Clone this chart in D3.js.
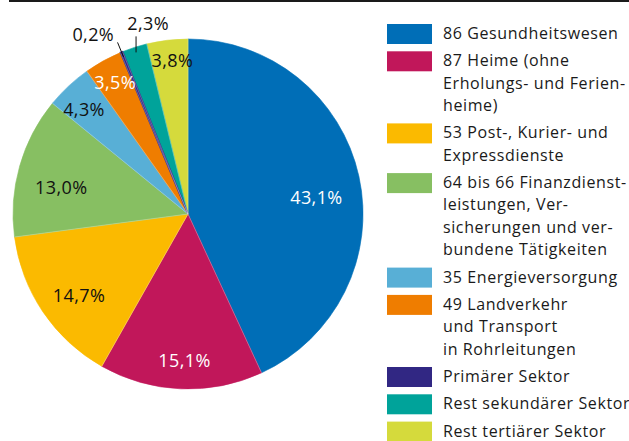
<!DOCTYPE html>
<html>
<head>
<meta charset="utf-8">
<script src="https://cdn.jsdelivr.net/npm/d3@7"></script>
<style>
  body { margin: 0; background: #fff; }
  svg { display: block; font-family: "Open Sans", sans-serif; }
</style>
</head>
<body>
<div id="chart"></div>
<script>
// Anteile je Wirtschaftszweig (%), im Uhrzeigersinn ab 12 Uhr
const sectors = [
  "86 Gesundheitswesen",
  "87 Heime",
  "53 Post",
  "64 bis 66 Finanz",
  "35 Energie",
  "49 Landverkehr",
  "Primärer Sektor",
  "Rest sekundärer Sektor",
  "Rest tertiärer Sektor",
];
const shares = [43.1, 15.1, 14.7, 13.0, 4.3, 3.5, 0.2, 2.3, 3.8];
const shareLabels = ["43,1%", "15,1%", "14,7%", "13,0%", "4,3%", "3,5%", "0,2%", "2,3%", "3,8%"];
const colors = ["#006eb7", "#c1175a", "#fbba00", "#87bf62", "#58afd6", "#ef7d00", "#312783", "#00a39a", "#d5da3c"];

// Legendentexte (Zeilenumbrüche wie im Original)
const legendLines = [
  ["86 Gesundheitswesen"],
  ["87 Heime (ohne", "Erholungs- und Ferien-", "heime)"],
  ["53 Post-, Kurier- und", "Expressdienste"],
  ["64 bis 66 Finanzdienst-", "leistungen, Ver-", "sicherungen und ver-", "bundene Tätigkeiten"],
  ["35 Energieversorgung"],
  ["49 Landverkehr", "und Transport", "in Rohrleitungen"],
  ["Primärer Sektor"],
  ["Rest sekundärer Sektor"],
  ["Rest tertiärer Sektor"],
];

const width = 629, height = 441;
const cx = 188, cy = 214, radius = 175;

// Label placement: radius factor, angle nudge, text colour, outside labels get a leader line
const labelStyle = [
  {r: 0.74, da: 5, fill: "#fff"},
  {r: 0.84, da: -1, fill: "#fff"},
  {r: 0.78, da: -3, fill: "#111"},
  {r: 0.74, da: -4, fill: "#111"},
  {r: 0.84, da: -2, fill: "#111"},
  {r: 0.86, da: 0, fill: "#fff"},
  {r: 1.16, da: -5.5, fill: "#111", leader: "radial"},
  {r: 1.11, da: 6, fill: "#111", leader: "vertical"},
  {r: 0.88, da: 1, fill: "#111"},
];

const svg = d3.select("#chart").append("svg")
    .attr("width", width)
    .attr("height", height);

svg.append("line")
    .attr("x1", 9).attr("x2", width)
    .attr("y1", 1).attr("y2", 1)
    .attr("stroke", "#1a1a1a")
    .attr("stroke-width", 2);

const data = shares.map((v, i) => ({name: sectors[i], value: v, label: shareLabels[i], color: colors[i], i}));

const pie = d3.pie()
    .sort(null)
    .value(d => d.value);

const arc = d3.arc()
    .innerRadius(0)
    .outerRadius(radius);

const arcs = pie(data);

const g = svg.append("g")
    .attr("transform", `translate(${cx},${cy})`);

// big slices first so the tiny ones stay visible on top
g.selectAll("path")
    .data(arcs.slice().sort((a, b) => b.value - a.value))
  .enter().append("path")
    .attr("d", arc)
    .attr("fill", d => d.data.color)
    .attr("stroke", d => d.data.color)
    .attr("stroke-width", d => d.value < 1 ? 1.6 : 0.6);

// thin light separators between slices
g.selectAll("line.sep")
    .data(arcs)
  .enter().append("line")
    .attr("class", "sep")
    .attr("x1", 0).attr("y1", 0)
    .attr("x2", d => Math.sin(d.startAngle) * radius)
    .attr("y2", d => -Math.cos(d.startAngle) * radius)
    .attr("stroke", "#fff")
    .attr("stroke-opacity", 0.45)
    .attr("stroke-width", 0.6);

const polar = (a, r) => [Math.sin(a) * r, -Math.cos(a) * r];

arcs.forEach(d => {
  const s = labelStyle[d.data.i];
  const mid = (d.startAngle + d.endAngle) / 2;
  const a = mid + s.da * Math.PI / 180;
  const [x, y] = polar(a, radius * s.r);

  if (s.leader == "radial") {
    const p0 = polar(mid, radius * 0.97), p1 = polar(mid, radius * 1.06);
    g.append("line")
        .attr("x1", p0[0]).attr("y1", p0[1])
        .attr("x2", p1[0]).attr("y2", p1[1])
        .attr("stroke", "#111").attr("stroke-width", 1);
  } else if (s.leader == "vertical") {
    const p0 = polar(mid, radius * 0.97);
    g.append("line")
        .attr("x1", p0[0]).attr("y1", p0[1])
        .attr("x2", p0[0]).attr("y2", p0[1] - 16)
        .attr("stroke", "#111").attr("stroke-width", 1);
  }

  g.append("text")
      .attr("x", x)
      .attr("y", y)
      .attr("dy", "0.35em")
      .attr("text-anchor", "middle")
      .attr("font-size", 18)
      .attr("letter-spacing", 0.4)
      .attr("fill", s.fill)
      .text(d.data.label);
});

// Legende
const legend = svg.append("g")
    .attr("transform", "translate(387,24)");

let legendY = 0;
legendLines.forEach((lines, i) => {
  const item = legend.append("g")
      .attr("transform", `translate(0,${legendY})`);
  item.append("rect")
      .attr("width", 45)
      .attr("height", 20)
      .attr("fill", colors[i]);
  item.selectAll("text")
      .data(lines)
    .enter().append("text")
      .attr("x", 56)
      .attr("y", (l, j) => 15 + j * 22.4)
      .attr("font-size", 16)
      .attr("letter-spacing", 0.6)
      .attr("fill", "#1a1a1a")
      .text(l => l);
  legendY += 27.3 + (lines.length - 1) * 22.4;
});
</script>
</body>
</html>
